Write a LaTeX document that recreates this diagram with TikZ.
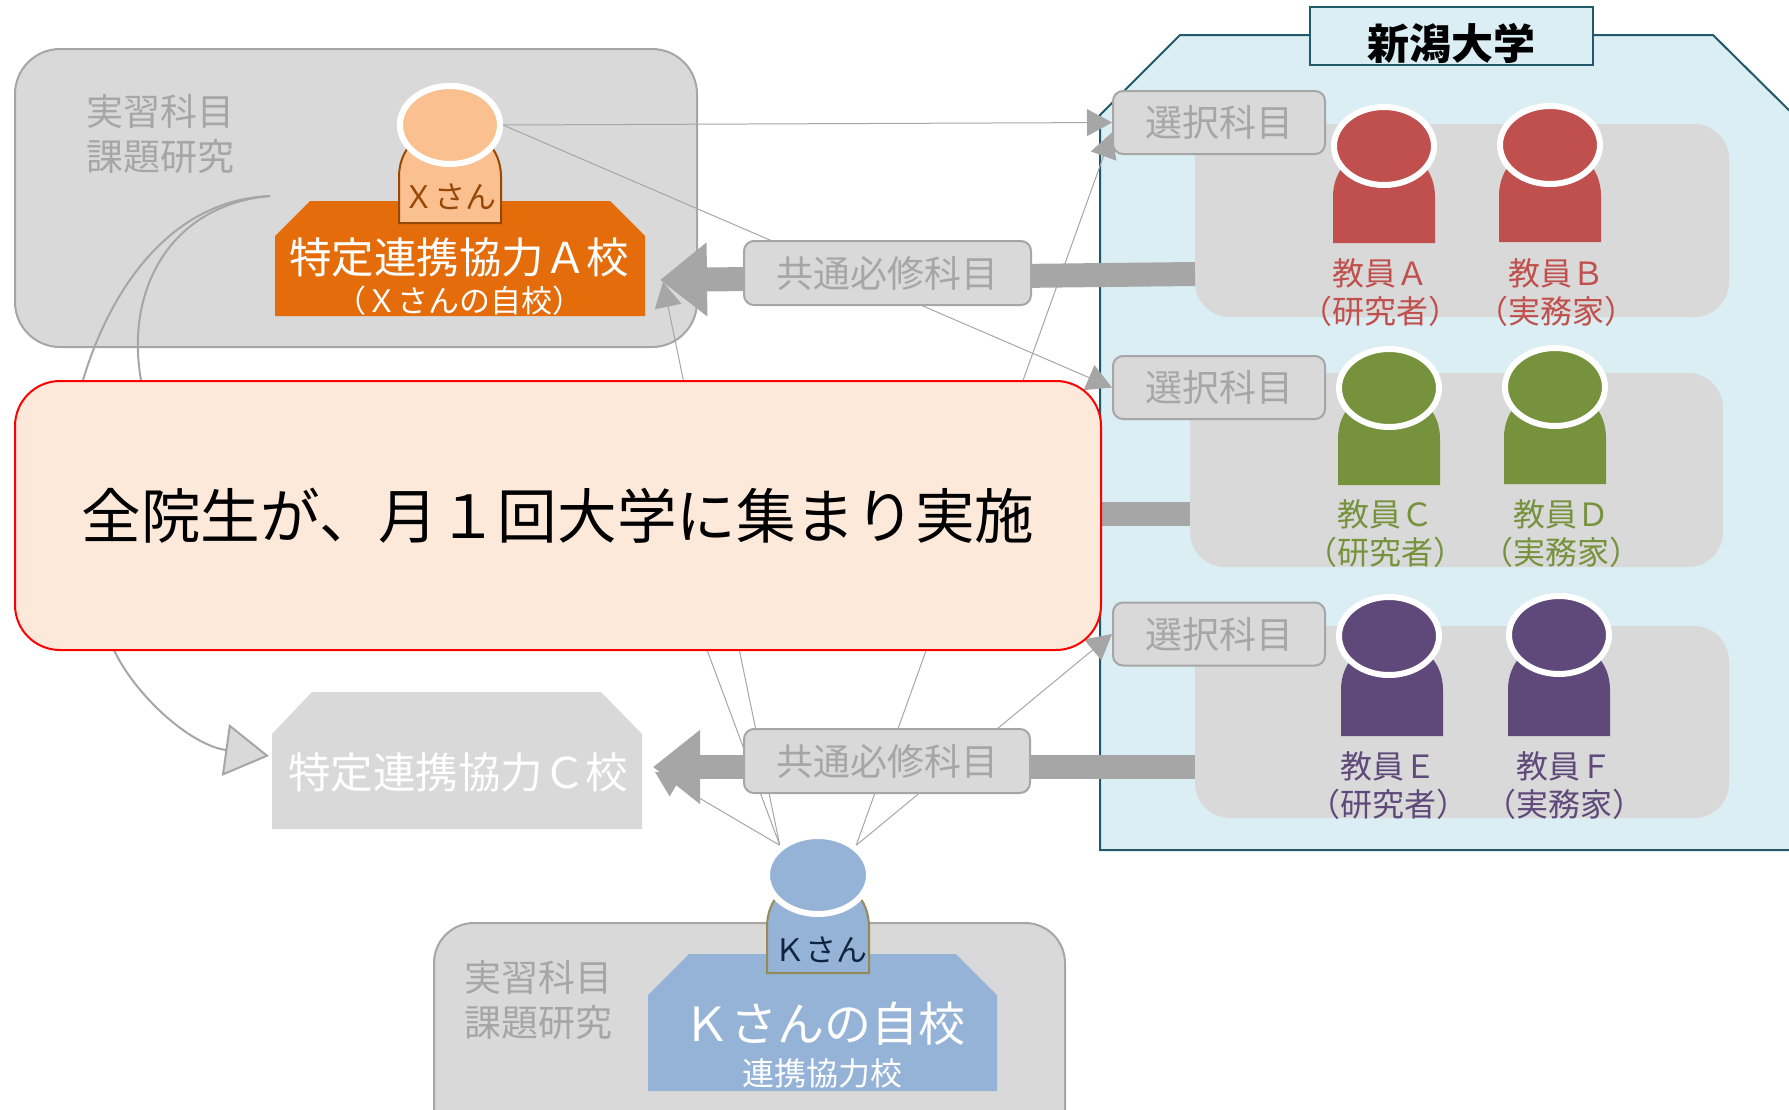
\documentclass[tikz,border=0pt]{standalone}
\usepackage{fontspec}
\setmainfont{Noto Sans CJK JP}
\usetikzlibrary{arrows.meta,shapes.geometric}
\definecolor{boxgray}{HTML}{D9D9D9}
\definecolor{linegray}{HTML}{A6A6A6}
\definecolor{unifill}{HTML}{DAEEF3}
\definecolor{uniline}{HTML}{215968}
\definecolor{meetfill}{HTML}{FDE9D9}
\definecolor{schoolA}{HTML}{E46C0A}
\definecolor{skinX}{HTML}{FAC090}
\definecolor{brownX}{HTML}{984806}
\definecolor{blueK}{HTML}{95B3D7}
\definecolor{oliveK}{HTML}{948A54}
\definecolor{navyK}{HTML}{0F243E}
\definecolor{teacherred}{HTML}{C0504D}
\definecolor{teachergreen}{HTML}{76923C}
\definecolor{teacherpurple}{HTML}{5F497A}
\newcommand{\fsize}[2]{\fontsize{#1}{#2}\selectfont}
\newcommand{\personbody}[3]{\path[#3] ({#1-51},#2) -- ({#1-51},{#2-46}) .. controls ({#1-51},{#2-75}) and ({#1-30},{#2-95}) .. (#1,{#2-95}) .. controls ({#1+30},{#2-95}) and ({#1+51},{#2-75}) .. ({#1+51},{#2-46}) -- ({#1+51},#2) -- cycle;}
\tikzset{
    gray-panel/.style = {draw=linegray, fill=boxgray, line width=2pt, rectangle, rounded corners=45pt, inner sep=0pt},
    teacher-panel/.style = {fill=boxgray, rectangle, rounded corners=35pt, inner sep=0pt},
    subject-box/.style = {draw=linegray, fill=boxgray, line width=2pt, rectangle, rounded corners=10pt, text=linegray, font=\fsize{37}{37}, inner sep=0pt},
    subject-text/.style = {text=linegray, font=\fsize{37}{45}, align=left, inner sep=0pt},
    head/.style = {draw=white, line width=6pt, ellipse, inner sep=0pt, minimum width=100pt, minimum height=78pt},
    thin-arrow/.style = {draw=linegray, line width=1pt, -{Triangle[length=25pt,width=27pt]}},
    big-arrow/.style = {draw=linegray, line width=24pt, -{Triangle[length=47pt,width=71pt]}},
    curve-line/.style = {draw=linegray, line width=2pt},
    school-title/.style = {text=white, font=\fsize{42.5}{42.5}, inner sep=0pt},
}
\begin{document}
\begin{tikzpicture}[x=1pt,y=-1pt]
\path[use as bounding box, clip] (0,0) rectangle (1789,1109);
% school panels
\node[gray-panel, minimum width=682pt, minimum height=298pt] (panelX) at (356,198) {};
\node[gray-panel, minimum width=631pt, minimum height=230pt, rounded corners=40pt] (panelK) at (749.5,1038) {};
\fill[boxgray] (272,829) -- (272,734) -- (312,692) -- (601,692) -- (642,734) -- (642,829) -- cycle;
% university
\fill[unifill] (1100,850) -- (1100,115) -- (1180,35) -- (1713,35) -- (1810,131) -- (1810,850) -- cycle;
\draw[uniline, line width=2pt] (1810,850) -- (1100,850) -- (1100,115) -- (1180,35) -- (1713,35) -- (1810,131);
\node[draw=uniline, fill=unifill, line width=2pt, minimum width=283pt, minimum height=58pt, inner sep=0pt, font=\fsize{42}{42}\bfseries] (uniTitle) at (1451.5,36) {\raisebox{-23pt}[0pt][0pt]{新潟大学}};
\node[teacher-panel, minimum width=534pt, minimum height=193pt] (teachersAB) at (1462,220.5) {};
\node[teacher-panel, minimum width=533pt, minimum height=194pt] (teachersCD) at (1456.5,470) {};
\node[teacher-panel, minimum width=534pt, minimum height=192pt] (teachersEF) at (1462,722) {};
% free ends of the connectors
\coordinate (barAB) at (1195,274);
\coordinate (barCD) at (1190,514);
\coordinate (barCDend) at (900,514);
\coordinate (barEF) at (1195,767);
\coordinate (tipX) at (660,280);
\coordinate (tipC) at (653,767);
\coordinate (tipXthin) at (663,282);
\coordinate (tipCthin) at (655,772);
\coordinate (hiddenK) at (640,470);
\coordinate (curveStart) at (270,196);
\coordinate (curveHidden) at (150,430);
\coordinate (tipCcurve) at (269,756);
\draw[big-arrow] (barAB) -- (tipX);
\draw[big-arrow] (barEF) -- (tipC);
\draw[draw=linegray, line width=24pt] (barCD) -- (barCDend);
% subjects and the two heads that the thin lines leave from
\node[subject-box, minimum width=212pt, minimum height=63pt] (electiveA) at (1219,122.5) {選択科目};
\node[subject-box, minimum width=212pt, minimum height=63pt] (electiveB) at (1219,387.5) {選択科目};
\node[subject-box, minimum width=212pt, minimum height=63pt] (electiveC) at (1219,634) {選択科目};
\node[head, fill=skinX] (headX) at (450,125) {};
\node[head, fill=blueK, minimum width=102pt] (headK) at (818,875) {};
\draw[thin-arrow] (headX.east) -- (electiveA.west);
\draw[thin-arrow] (headX.east) -- (electiveB.west);
\draw[thin-arrow] (headK.north east) -- ([yshift=-10pt]electiveA.west);
\draw[thin-arrow] (headK.north east) -- (electiveC.west);
\draw[thin-arrow] (headK.north west) -- (tipXthin);
\draw[thin-arrow] (headK.north west) -- (tipCthin);
\draw[draw=linegray, line width=1pt] (headK.north west) -- (hiddenK);
\draw[curve-line, -{Triangle[length=44pt,width=52pt,fill=boxgray]}] (curveStart) .. controls (170,200) and (110,290) .. (83,380) .. controls (60,480) and (80,560) .. (114,650) .. controls (135,695) and (190,745) .. (tipCcurve);
\draw[curve-line] (curveStart) .. controls (170,205) and (125,290) .. (141,380) -- (curveHidden);
% meeting box
\node[draw=red, fill=meetfill, line width=2pt, rectangle, rounded corners=45pt, minimum width=1086pt, minimum height=269pt, inner sep=0pt, font=\fsize{59.6}{60}] (meeting) at (558,515.5) {全院生が、月１回大学に集まり実施};
\node[subject-box, minimum width=287pt, minimum height=64pt] (commonX) at (887.5,273) {共通必修科目};
\node[subject-box, minimum width=286pt, minimum height=64pt] (commonK) at (887,761) {共通必修科目};
\node[school-title] (titleC) at (458,772) {特定連携協力Ｃ校};
% school X
\node[subject-text] (subjectsX) at (160,134) {実習科目\\課題研究};
\fill[schoolA] (275,316) -- (275,236) -- (310,201) -- (610,201) -- (645,236) -- (645,316) -- cycle;
\personbody{450}{223}{fill=skinX, draw=brownX, line width=2pt}
\node[head, fill=skinX] at (headX) {};
\node[text=brownX, font=\fsize{31}{31}, inner sep=0pt] (nameX) at (450,197) {Ｘさん};
\node[school-title] (titleX) at (459,257) {特定連携協力Ａ校};
\node[text=white, font=\fsize{31}{31}, inner sep=0pt] (noteX) at (459,301) {（Ｘさんの自校）};
% school K
\node[subject-text] (subjectsK) at (538,1000) {実習科目\\課題研究};
\fill[blueK] (648,1091) -- (648,995) -- (689,954) -- (956,954) -- (997,995) -- (997,1091) -- cycle;
\personbody{818}{973}{fill=blueK, draw=oliveK, line width=2pt}
\node[head, fill=blueK, minimum width=102pt] at (headK) {};
\node[text=navyK, font=\fsize{31}{31}, inner sep=0pt] (nameK) at (821,950) {Ｋさん};
\node[text=white, font=\fsize{47}{47}, inner sep=0pt] (titleK) at (824,1024) {Ｋさんの自校};
\node[text=white, font=\fsize{32}{32}, inner sep=0pt] (noteK) at (822,1073) {連携協力校};
% teachers
\foreach \who/\letter/\cx/\bx/\hy/\bot/\tint/\lx/\ly/\role in {
    a/Ａ/1384/1384/146/243/teacherred/1380/293/研究者,
    b/Ｂ/1550/1550/145/242/teacherred/1556/293/実務家,
    c/Ｃ/1389/1389/388/485/teachergreen/1385/534/研究者,
    d/Ｄ/1555/1555/387/484/teachergreen/1561/534/実務家,
    e/Ｅ/1389/1392/636/736/teacherpurple/1388/786/研究者,
    f/Ｆ/1559/1559/635/736/teacherpurple/1564/786/実務家}{
    \personbody{\bx}{\bot}{fill=\tint}
    \node[head, fill=\tint] (head\who) at (\cx,\hy) {};
    \node[text=\tint, font=\fsize{32}{38}, align=center, inner sep=0pt] (label\who) at (\lx,\ly) {教員\letter\\（\role）};
}
\end{tikzpicture}
\end{document}
